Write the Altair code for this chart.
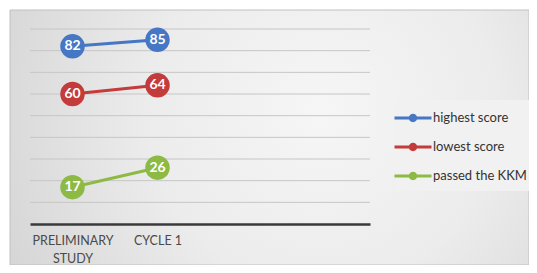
import altair as alt
import pandas as pd

categories = ["PRELIMINARY STUDY", "CYCLE 1"]
x_domain = ["PRELIMINARY STUDY", "CYCLE 1", "_c3", "_c4"]
series = ["highest score", "lowest score", "passed the KKM"]
highest = [82, 85]
lowest = [60, 64]
passed = [17, 26]
grid_values = [10, 20, 30, 40, 50, 60, 70, 80, 90]
colors = ["#4677C4", "#C33B3A", "#8DBA45"]

rows = []
for name, vals in zip(series, [highest, lowest, passed]):
    for c, v in zip(categories, vals):
        rows.append({"category": c, "series": name, "value": v})
df = pd.DataFrame(rows)

W, H = 340, 195
PL, PT, PR, PB = 22, 21, 159, 41

sym_path = ("M-1.85,-0.15 H1.85 V0.15 H-1.85 Z "
            "M0.42,0 A0.42,0.42 0 1 1 -0.42,0 A0.42,0.42 0 1 1 0.42,0 Z")

y_scale = alt.Scale(domain=[0, 90], nice=False)

x_enc = alt.X("category:N", scale=alt.Scale(domain=x_domain, paddingInner=0, paddingOuter=0),
              sort=x_domain,
              axis=alt.Axis(title=None, ticks=False, domain=True, domainColor="#3a3a3a",
                            domainWidth=2.5, labelAngle=0, labelFont="Lato", labelFontSize=12.5,
                            labelColor="#4a4a4a", labelPadding=10, labelLineHeight=18,
                            grid=False, zindex=1,
                            labelExpr="datum.value == 'PRELIMINARY STUDY' ? ['PRELIMINARY', 'STUDY'] : (datum.value == 'CYCLE 1' ? 'CYCLE 1' : '')"))
y_enc = alt.Y("value:Q", scale=y_scale, axis=None)
color_enc = alt.Color("series:N", scale=alt.Scale(domain=series, range=colors),
                      legend=alt.Legend(title=None, orient="none", legendX=365, legendY=71,
                                        symbolType=sym_path, symbolSize=400, symbolStrokeWidth=0,
                                        labelFont="Lato", labelFontSize=13, labelColor="#333333",
                                        labelOffset=10, rowPadding=12, padding=8,
                                        fillColor="#f1f1f1"))

bg = alt.Chart(pd.DataFrame({"a": [0]})).mark_rect(
    fill=alt.Gradient(gradient="radial",
                      stops=[alt.GradientStop(color="#f6f6f6", offset=0),
                             alt.GradientStop(color="#ececec", offset=0.45),
                             alt.GradientStop(color="#d0d0d0", offset=1)],
                      x1=0.6, y1=0.45, r1=0, x2=0.6, y2=0.45, r2=0.75),
    stroke="#c0c0c0", strokeWidth=1
).encode(x=alt.value(-PL + 2), x2=alt.value(W + PR), y=alt.value(-PT + 2), y2=alt.value(H + PB))

grid = alt.Chart(pd.DataFrame({"g": grid_values})).mark_rule(color="#c6c6c6", strokeWidth=1).encode(
    y=alt.Y("g:Q", scale=y_scale, axis=None), x=alt.value(0), x2=alt.value(W))

base = alt.Chart(df)
lines = base.mark_line(strokeWidth=3).encode(x=x_enc, y=y_enc, color=color_enc)
pts = base.mark_point(filled=True, size=600, opacity=1).encode(x=x_enc, y=y_enc, color=color_enc)
labels = base.mark_text(color="white", font="Lato", fontWeight="bold", fontSize=14,
                        baseline="middle", align="center").encode(
    x=x_enc, y=y_enc, text="value:Q")

chart = alt.layer(bg, grid, lines, pts, labels).properties(
    width=W, height=H,
    padding={"left": PL, "top": PT, "right": PR, "bottom": PB},
    autosize=alt.AutoSizeParams(type="none"),
    background="white"
).configure_view(stroke=None).configure_axis(minExtent=0)

chart.save("out.html", embed_options={"renderer": "svg", "actions": False})
